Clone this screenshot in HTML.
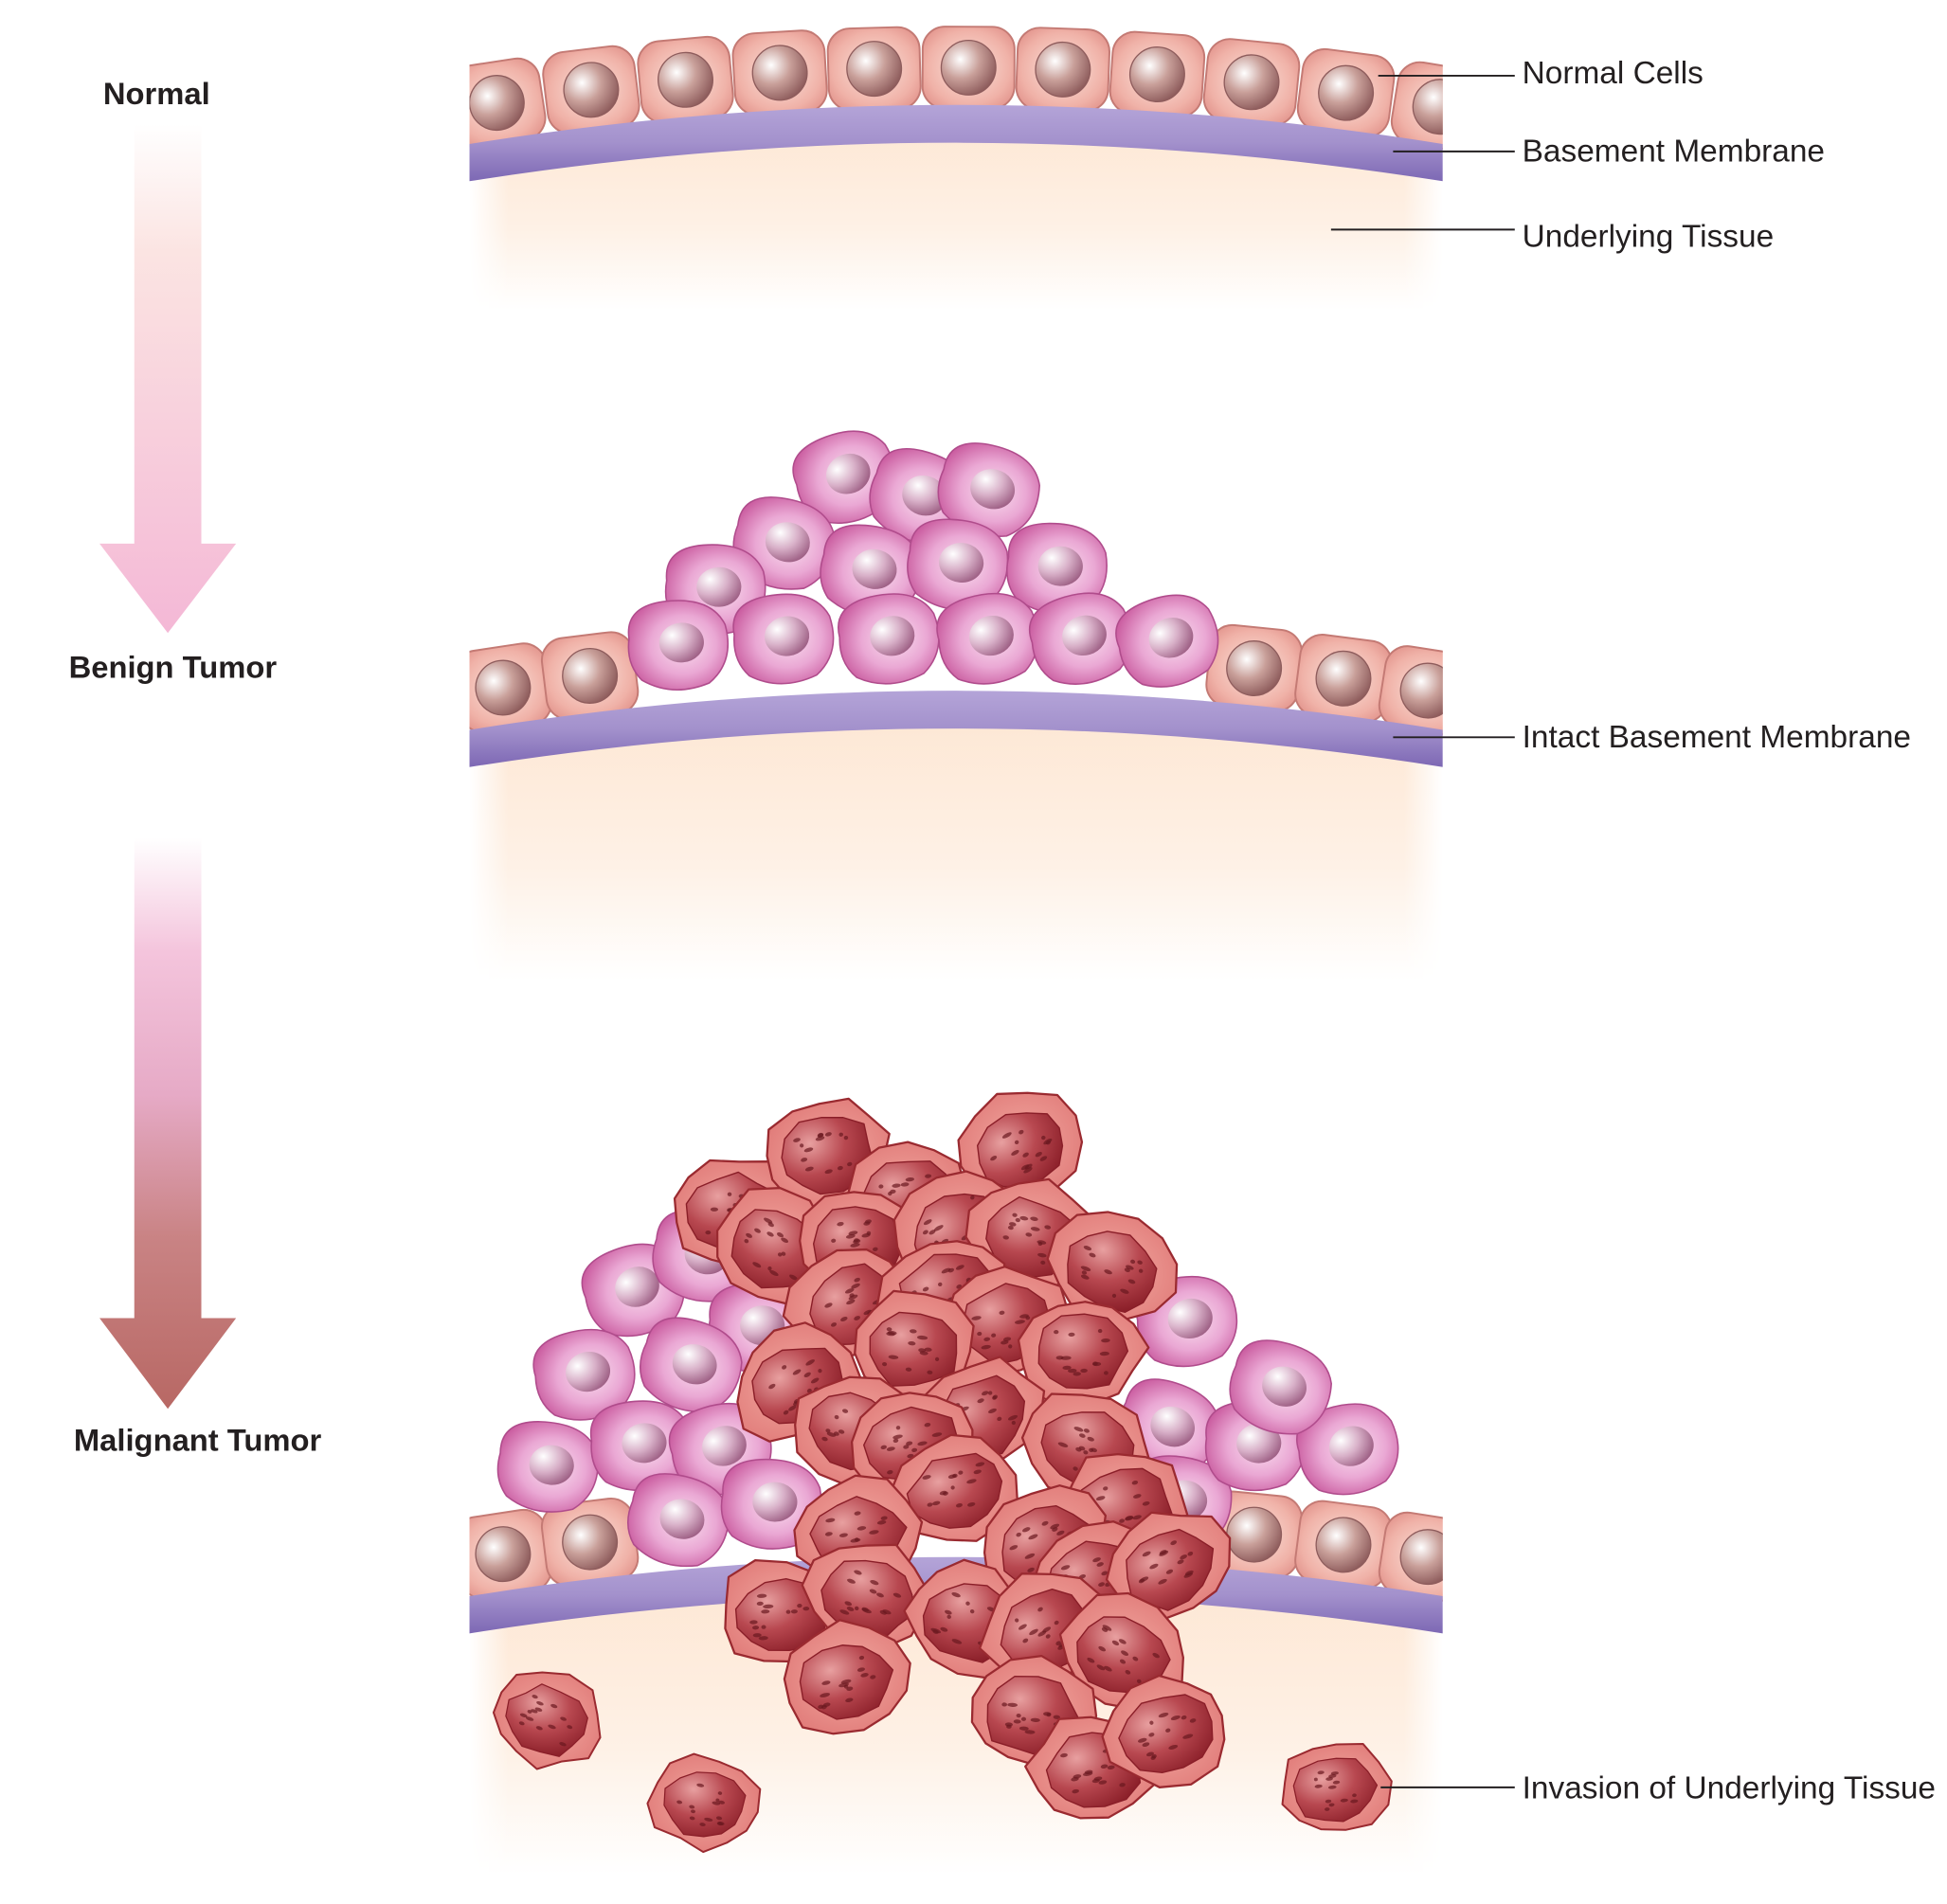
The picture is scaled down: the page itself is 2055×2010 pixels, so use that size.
<!DOCTYPE html>
<html><head><meta charset="utf-8"><style>
html,body{margin:0;padding:0;background:#fff;overflow:hidden}
svg{display:block}
text{font-family:"Liberation Sans",Arial,sans-serif}
</style></head><body>
<svg id="s" width="2055" height="2010" viewBox="0 0 1568 1534" xmlns="http://www.w3.org/2000/svg">
<defs>
<linearGradient id="tis" x1="0" y1="0" x2="0" y2="1"><stop offset="0" stop-color="#fde6d2"/><stop offset="0.6" stop-color="#fef1e6"/><stop offset="1" stop-color="#fff"/></linearGradient>
<linearGradient id="hf" x1="0" y1="0" x2="1" y2="0"><stop offset="0" stop-color="#000"/><stop offset="0.04" stop-color="#fff"/><stop offset="0.96" stop-color="#fff"/><stop offset="1" stop-color="#000"/></linearGradient>
<mask id="hm"><rect x="378" y="0" width="784" height="1534" fill="url(#hf)"/></mask>
<linearGradient id="mem" x1="0" y1="0" x2="0" y2="1"><stop offset="0" stop-color="#b4a4d8"/><stop offset="0.5" stop-color="#a391cc"/><stop offset="1" stop-color="#7d68b4"/></linearGradient>
<linearGradient id="a1" x1="0" y1="0" x2="0" y2="1"><stop offset="0" stop-color="#fff"/><stop offset="0.25" stop-color="#fbe4e2"/><stop offset="1" stop-color="#f4b8d6"/></linearGradient>
<linearGradient id="a2" x1="0" y1="0" x2="0" y2="1"><stop offset="0" stop-color="#fff"/><stop offset="0.2" stop-color="#f4c4dc"/><stop offset="0.45" stop-color="#e6aac6"/><stop offset="0.7" stop-color="#c98384"/><stop offset="1" stop-color="#b86864"/></linearGradient>
<radialGradient id="nc" cx="0.5" cy="0.5" r="0.6"><stop offset="0" stop-color="#fbe4dc"/><stop offset="0.75" stop-color="#f0b2a8"/><stop offset="1" stop-color="#e49890"/></radialGradient>
<radialGradient id="nn" cx="0.35" cy="0.35" r="0.7"><stop offset="0" stop-color="#fff"/><stop offset="0.5" stop-color="#c9a09a"/><stop offset="1" stop-color="#8e5c5c"/></radialGradient>
<radialGradient id="bc" cx="0.55" cy="0.5" r="0.6"><stop offset="0" stop-color="#fae0f0"/><stop offset="0.55" stop-color="#eaa8d4"/><stop offset="1" stop-color="#c95a9e"/></radialGradient>
<radialGradient id="bn" cx="0.3" cy="0.3" r="0.8"><stop offset="0" stop-color="#fff"/><stop offset="0.5" stop-color="#d8b0c8"/><stop offset="1" stop-color="#9a5a80"/></radialGradient>
<radialGradient id="mc" cx="0.5" cy="0.5" r="0.6"><stop offset="0" stop-color="#f2a8a0"/><stop offset="1" stop-color="#e07a78"/></radialGradient>
<radialGradient id="mn" cx="0.35" cy="0.3" r="0.8"><stop offset="0" stop-color="#e8a0a0"/><stop offset="0.5" stop-color="#b84850"/><stop offset="1" stop-color="#8a1e28"/></radialGradient>
<clipPath id="cp"><rect x="378" y="0" width="784" height="1534"/></clipPath>
</defs>
<g id="t" mask="url(#hm)"></g>
<g id="g" clip-path="url(#cp)"></g>
<path d="M108 100 H162 V438 H190 L135 510 L80 438 H108 Z" fill="url(#a1)"/>
<path d="M108 675 H162 V1062 H190 L135 1135 L80 1062 H108 Z" fill="url(#a2)"/>
<g font-weight="bold" font-size="25" fill="#231f20">
<text x="126" y="84" text-anchor="middle">Normal</text>
<text x="139" y="546" text-anchor="middle">Benign Tumor</text>
<text x="159" y="1169" text-anchor="middle">Malignant Tumor</text>
</g>
<g font-size="25.5" fill="#231f20">
<text x="1226" y="67">Normal Cells</text>
<text x="1226" y="130">Basement Membrane</text>
<text x="1226" y="199">Underlying Tissue</text>
<text x="1226" y="602">Intact Basement Membrane</text>
<text x="1226" y="1449">Invasion of Underlying Tissue</text>
</g>
<g stroke="#231f20" stroke-width="1.5">
<line x1="1110" y1="61" x2="1220" y2="61"/>
<line x1="1122" y1="122" x2="1220" y2="122"/>
<line x1="1072" y1="185" x2="1220" y2="185"/>
<line x1="1122" y1="594" x2="1220" y2="594"/>
<line x1="1112" y1="1440" x2="1220" y2="1440"/>
</g>
</svg>
<script>
var NS="http://www.w3.org/2000/svg",g=document.getElementById('g'),tg=document.getElementById('t');
function el(t,a,p){var e=document.createElementNS(NS,t);for(var k in a)e.setAttribute(k,a[k]);(p||g).appendChild(e);return e;}
var seed=7;function rnd(){seed=(seed*9301+49297)%233280;return seed/233280;}
function yt(x){return 86.5+31.5*Math.pow((x-770)/390,2);}
function slope(x){return Math.atan(2*31.5*(x-770)/(390*390))*180/Math.PI;}
function tissue(o,bottom){
 el('path',{d:'M378 '+(119+o)+' Q770 '+(56+o)+' 1162 '+(119+o)+' V'+bottom+' H378 Z',fill:'url(#tis)'},tg);
}
function membrane(o){
 el('path',{d:'M378 '+(116+o)+' Q770 '+(53+o)+' 1162 '+(116+o)+' L1162 '+(146+o)+' Q770 '+(84+o)+' 378 '+(146+o)+' Z',fill:'url(#mem)'});
}
function normal(x,o){
 var y=yt(x)-32+o,gp=el('g',{transform:'translate('+x+','+y+') rotate('+slope(x)+')'});
 el('rect',{x:-37,y:-33,width:74,height:66,rx:18,fill:'url(#nc)',stroke:'#c47a74','stroke-width':1.5},gp);
 el('circle',{cx:0,cy:0,r:22,fill:'url(#nn)',stroke:'#8e5c5c','stroke-width':1},gp);
}
function benign(x,y,r){
 var gp=el('g',{transform:'translate('+x+','+y+') rotate('+(r||0)+')'});
 el('path',{d:'M-38 -8 Q-40 -34 -8 -36 Q30 -38 40 -14 Q46 16 24 32 Q-6 42 -30 26 Q-42 12 -38 -8Z',fill:'url(#bc)',stroke:'#b04c8c','stroke-width':1.2},gp);
 el('ellipse',{cx:4,cy:-2,rx:18,ry:16,fill:'url(#bn)'},gp);
}
function malig(x,y,s){
 s=s||1;var gp=el('g',{transform:'translate('+x+','+y+') rotate('+(rnd()*60-30)+') scale('+s+')'});
 var n=13,pts=[],pts2=[];
 for(var i=0;i<n;i++){var a=i/n*Math.PI*2,rr=1+rnd()*0.2-0.1;
  pts.push((Math.cos(a)*47*rr).toFixed(1)+','+(Math.sin(a)*40*rr).toFixed(1));
  var r2=0.72+rnd()*0.14;pts2.push((Math.cos(a)*34*r2/0.78).toFixed(1)+','+(Math.sin(a)*28*r2/0.78+2).toFixed(1));}
 el('polygon',{points:pts.join(' '),fill:'url(#mc)',stroke:'#9a2a30','stroke-width':1.6,'stroke-linejoin':'round'},gp);
 el('polygon',{points:pts2.join(' '),fill:'url(#mn)',stroke:'#8a1e28','stroke-width':1,'stroke-linejoin':'round'},gp);
 for(var k=0;k<14;k++){el('ellipse',{cx:(rnd()*44-22).toFixed(1),cy:(rnd()*34-15).toFixed(1),rx:(1.5+rnd()*2.5).toFixed(1),ry:1.5,fill:'#6a1820',opacity:0.7},gp);}
}
tissue(0,250);
for(var x=400;x<1170;x+=76)normal(x,0);
membrane(0);
tissue(472,790);
[405,475,1010,1082,1150].forEach(function(x){normal(x,472);});
membrane(472);
[[680,385],[740,400],[795,395],[630,438],[700,460],[770,455],[850,458],[575,475],[545,520],[630,515],[715,515],[795,515],[870,515],[940,517]].forEach(function(p,i){benign(p[0],p[1],(i*37)%40-20);});
tissue(1170,1510);
[405,475,1010,1082,1150].forEach(function(x){normal(x,1170);});
membrane(1170);
[[510,1040],[565,1012],[610,1070],[470,1108],[555,1100],[440,1182],[515,1165],[580,1168],[545,1225],[620,1212],[955,1065],[940,1150],[950,1210],[1010,1165],[1085,1168],[1030,1118]].forEach(function(p,i){benign(p[0],p[1],(i*29)%40-20);});
[[590,975],[665,928],[820,925],[730,962],[625,1005],[690,1000],[770,990],[830,995],[895,1022],[685,1050],[760,1040],[810,1065],[870,1088],[640,1115],[735,1085],[690,1152],[790,1140],[735,1162],[875,1165],[770,1200],[905,1212],[690,1235],[840,1242],[880,1272],[940,1262],[630,1300],[700,1285],[780,1305],[840,1312],[905,1332],[680,1352],[830,1380],[880,1425],[940,1395],[440,1385],[568,1452],[1075,1440]].forEach(function(p,i){malig(p[0],p[1],i>=34?0.95:1.08);});
</script>
</body></html>
